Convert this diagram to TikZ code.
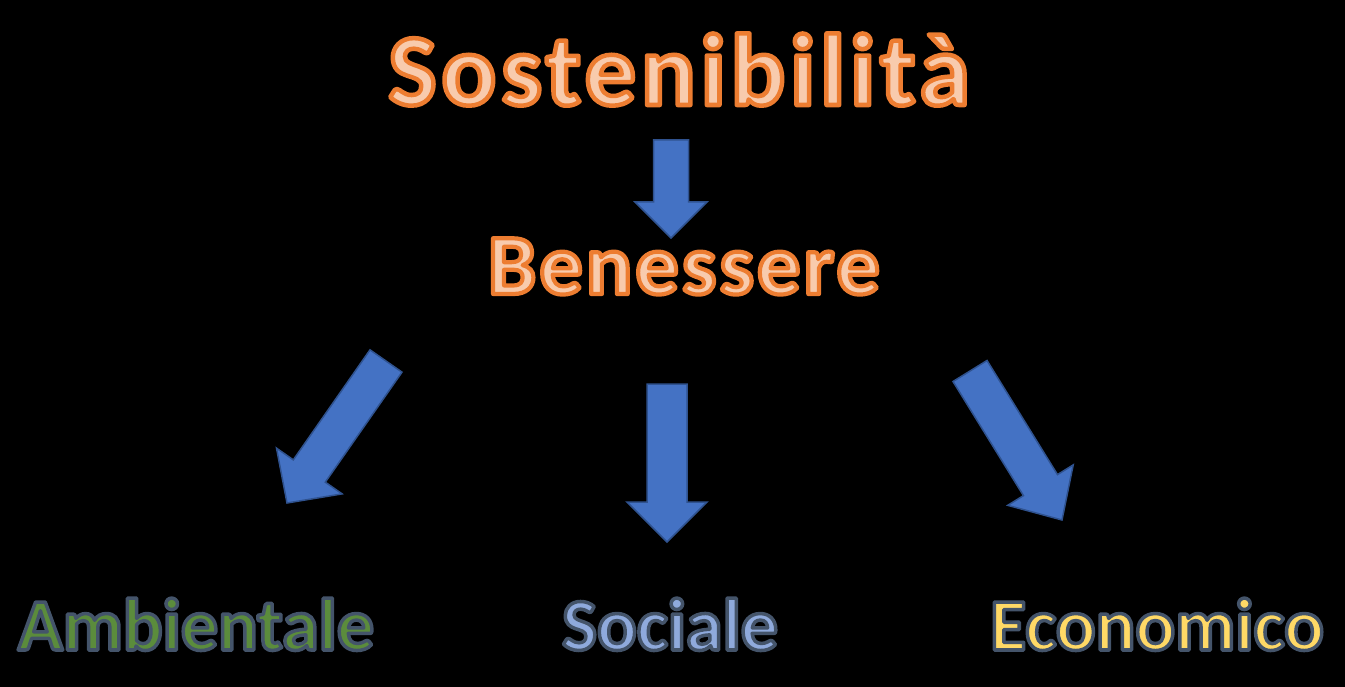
\documentclass[tikz,border=0pt]{standalone}
\usepackage{fontspec}
\setmainfont{Carlito}
\usetikzlibrary{calc}
\definecolor{arancio}{HTML}{ED7D31}
\definecolor{pesca}{HTML}{F8CBAD}
\definecolor{ardesia}{HTML}{44546A}
\definecolor{verde}{HTML}{5B8C3C}
\definecolor{celeste}{HTML}{8FAADC}
\definecolor{giallo}{HTML}{FFD966}
\definecolor{blu}{HTML}{4472C4}
\definecolor{blubordo}{HTML}{2F528F}
% outlined text: stroke rgb, width, text
\newcommand\bordo[3]{\special{pdf:literal direct q #2 w 1 j #1 RG 2 Tr}#3\special{pdf:literal direct Q}}
% block arrow: tail, tip, half shaft, half head, head length
\def\freccia#1#2#3#4#5{%
  \coordinate (n) at ($(#2)!#5!(#1)$);
  \draw[frecciabox] ($(#1)!#3!90:(#2)$) -- ($(n)!#3!90:(#2)$) -- ($(n)!#4!90:(#2)$)
    -- (#2) -- ($(n)!#4!-90:(#2)$) -- ($(n)!#3!-90:(#2)$) -- ($(#1)!#3!-90:(#2)$) -- cycle;}

\begin{document}
\begin{tikzpicture}[x=1pt,y=-1pt,
    frecciabox/.style={draw=blubordo,line width=1.5pt,fill=blu,line join=miter},
    grande/.style 2 args={anchor=base,inner sep=0pt,font=\bfseries\fontsize{#1}{#1}\selectfont\addfontfeature{LetterSpace=#2}},
    ]
    \fill[black] (0,0) rectangle (1345,687);
    \useasboundingbox (0,0) rectangle (1345,687);

    \node[grande={102}{4.8},text=pesca] (sost) at (679,105){\bordo{0.929 0.490 0.192}{4.5}{Sostenibilità}};
    \node[grande={86}{3.8},text=pesca] (ben) at (684,294){\bordo{0.929 0.490 0.192}{4.2}{Benessere}};

    \node[grande={74}{0},text=verde] (amb) at (196,650){\bordo{0.267 0.329 0.416}{3.5}{Ambientale}};
    \node[grande={74}{0},text=celeste] (soc) at (670,650){\bordo{0.267 0.329 0.416}{3.5}{Sociale}};
    \node[grande={74}{0},text=giallo] (eco) at (1157,650){\bordo{0.267 0.329 0.416}{3.5}{Economico}};

    \coordinate (t1) at (671,140);  \coordinate (p1) at (671,238);
    \coordinate (t2) at (386,361);  \coordinate (p2) at (287,503);
    \coordinate (t3) at (667,384);  \coordinate (p3) at (667,542);
    \coordinate (t4) at (970,371);  \coordinate (p4) at (1062,520);
    \freccia{t1}{p1}{17.5pt}{36pt}{36pt}
    \freccia{t2}{p2}{19.5pt}{40pt}{39pt}
    \freccia{t3}{p3}{20pt}{40pt}{40pt}
    \freccia{t4}{p4}{20pt}{38.5pt}{41pt}
\end{tikzpicture}
\end{document}
